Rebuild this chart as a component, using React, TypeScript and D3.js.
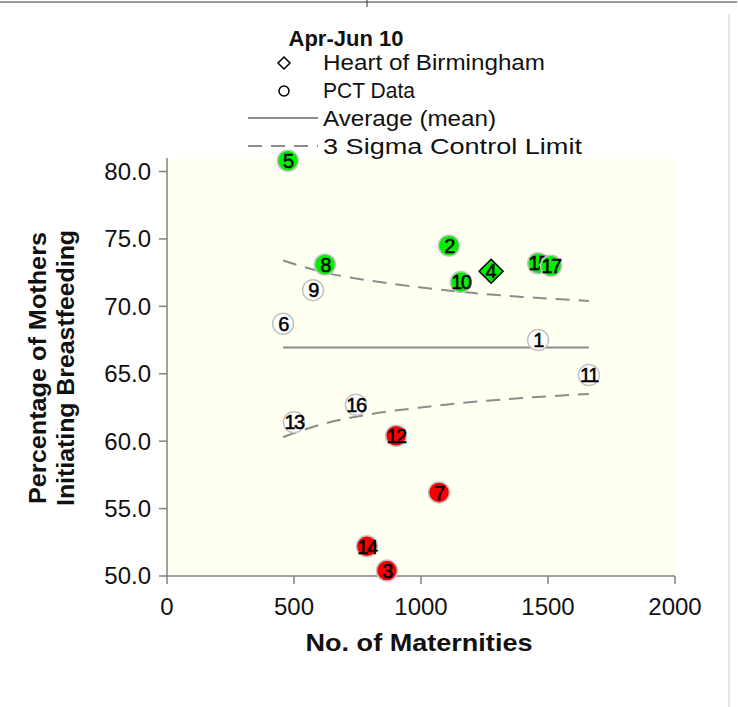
import React from "react";
import * as d3 from "d3";

// ---- data ----
const pctIds = [1, 2, 3, 5, 6, 7, 8, 9, 10, 11, 12, 13, 14, 15, 16, 17];
const pctMaternities = [1461, 1110, 866, 476, 457, 1071, 622, 575, 1157, 1661, 902, 500, 787, 1461, 744, 1512];
const pctPercent = [67.5, 74.5, 50.4, 80.8, 68.7, 56.2, 73.1, 71.2, 71.8, 64.9, 60.4, 61.4, 52.2, 73.2, 62.7, 73.0];
const pctStatus = ["in", "above", "below", "above", "in", "below", "above", "in", "above", "in", "below", "in", "below", "above", "in", "above"];

const hobId = 4;
const hobMaternities = 1276;
const hobPercent = 72.6;
const hobStatus = "above";

const meanValue = 66.95;
const limitMaternities = [457, 600, 800, 1000, 1200, 1400, 1661];
const upperLimit = [73.4, 72.6, 71.9, 71.4, 71.0, 70.7, 70.4];
const lowerLimit = [60.3, 61.2, 62.0, 62.5, 62.9, 63.2, 63.5];

const xTicks = [0, 500, 1000, 1500, 2000];
const yTicks = [50, 55, 60, 65, 70, 75, 80];

const legendTitle = "Apr-Jun 10";
const legendLabels = ["Heart of Birmingham", "PCT Data", "Average (mean)", "3 Sigma Control Limit"];
const xTitle = "No. of Maternities";
const yTitleLines = ["Percentage of Mothers", "Initiating Breastfeeding"];

const fillFor: Record<string, string> = { above: "#00EE00", below: "#F80000", in: "#FFFFFF" };

export default function App() {
  const W = 738, H = 707;
  const left = 167, right = 675, top = 158, bottom = 576;
  const x = d3.scaleLinear().domain([0, 2000]).range([left, right]);
  const y = d3.scaleLinear().domain([50, 81]).range([bottom, top]);
  const font = "'Liberation Sans', Arial, sans-serif";
  const axisColor = "#808080";

  const limitLine = d3
    .line<number>()
    .x((_, i) => x(limitMaternities[i]))
    .y((d) => y(d))
    .curve(d3.curveMonotoneX);

  const pts = pctIds.map((id, i) => ({ id, n: pctMaternities[i], p: pctPercent[i], s: pctStatus[i] }));
  const dHalf = 12;
  const legendWidths = [222, 92, 173, 259];
  const yTitleWidths = [272, 276];

  return (
    <svg width={W} height={H} style={{ position: "absolute", left: 0, top: 0, background: "#fff" }} fontFamily={font}>
      {/* frame artefacts */}
      <line x1={0} x2={737} y1={2} y2={2} stroke="#9a9a9a" strokeWidth={2} />
      <line x1={367} x2={367} y1={0} y2={7} stroke="#333" strokeWidth={1} />
      <line x1={729} x2={729} y1={14} y2={707} stroke="#dcdcdc" strokeWidth={1.5} />

      {/* plot background */}
      <rect x={left} y={top} width={right - left} height={bottom - top} fill="#FFFFF2" />

      {/* mean line */}
      <line x1={x(limitMaternities[0])} x2={x(limitMaternities[limitMaternities.length - 1])} y1={y(meanValue)} y2={y(meanValue)} stroke="#8c8c8c" strokeWidth={2} />
      {/* control limits */}
      <path d={limitLine(upperLimit) || ""} fill="none" stroke="#8c8c8c" strokeWidth={2} strokeDasharray="14,9" />
      <path d={limitLine(lowerLimit) || ""} fill="none" stroke="#8c8c8c" strokeWidth={2} strokeDasharray="14,9" />

      {/* axes */}
      <line x1={left} x2={left} y1={top} y2={bottom} stroke={axisColor} strokeWidth={1.5} />
      <line x1={left} x2={right} y1={bottom} y2={bottom} stroke={axisColor} strokeWidth={1.5} />
      {yTicks.map((t) => (
        <g key={"y" + t}>
          <line x1={left - 8} x2={left} y1={y(t)} y2={y(t)} stroke={axisColor} strokeWidth={1.5} />
          <text x={left - 16} y={y(t)} dy="0.35em" textAnchor="end" fontSize={24} fill="#111">
            {t.toFixed(1)}
          </text>
        </g>
      ))}
      {xTicks.map((t) => (
        <g key={"x" + t}>
          <line x1={x(t)} x2={x(t)} y1={bottom} y2={bottom + 8} stroke={axisColor} strokeWidth={1.5} />
          <text x={x(t)} y={bottom + 39} textAnchor="middle" fontSize={24} fill="#111">
            {t}
          </text>
        </g>
      ))}

      {/* axis titles */}
      <text x={419} y={651} textAnchor="middle" fontSize={24} fontWeight="bold" fill="#111" textLength={227} lengthAdjust="spacingAndGlyphs">
        {xTitle}
      </text>
      <g transform="translate(38,368) rotate(-90)">
        {yTitleLines.map((l, i) => (
          <text key={l} x={0} y={i * 28} dy="0.35em" textAnchor="middle" fontSize={24} fontWeight="bold" fill="#111" textLength={yTitleWidths[i]} lengthAdjust="spacingAndGlyphs">
            {l}
          </text>
        ))}
      </g>

      {/* PCT points */}
      {pts.map((d) => (
        <g key={"p" + d.id}>
          <circle cx={x(d.n)} cy={y(d.p)} r={10.5} fill={fillFor[d.s]} stroke="#c4c4c4" strokeWidth={1.5} />
          <text x={x(d.n)} y={y(d.p)} dy="0.36em" textAnchor="middle" fontSize={20} letterSpacing={-1.5} fill="#000" stroke="#000" strokeWidth={0.5}>
            {d.id}
          </text>
        </g>
      ))}
      {/* Heart of Birmingham */}
      <g>
        <path
          d={`M${x(hobMaternities)},${y(hobPercent) - dHalf} L${x(hobMaternities) + dHalf},${y(hobPercent)} L${x(hobMaternities)},${y(hobPercent) + dHalf} L${x(hobMaternities) - dHalf},${y(hobPercent)} Z`}
          fill={fillFor[hobStatus]}
          stroke="#000"
          strokeWidth={1.5}
        />
        <text x={x(hobMaternities)} y={y(hobPercent)} dy="0.36em" textAnchor="middle" fontSize={20} fill="#000" stroke="#000" strokeWidth={0.5}>
          {hobId}
        </text>
      </g>

      {/* legend */}
      <text x={346} y={46} textAnchor="middle" fontSize={22} fontWeight="bold" fill="#111">
        {legendTitle}
      </text>
      <path d="M284,57 L290,63 L284,69 L278,63 Z" fill="#fff" stroke="#000" strokeWidth={1.5} />
      <circle cx={284} cy={91} r={5} fill="#fff" stroke="#000" strokeWidth={1.5} />
      <line x1={248} x2={318} y1={118} y2={118} stroke="#8c8c8c" strokeWidth={2} />
      <line x1={248} x2={318} y1={146} y2={146} stroke="#8c8c8c" strokeWidth={2} strokeDasharray="14,9" />
      {legendLabels.map((l, i) => (
        <text key={l} x={323} y={70 + i * 28} fontSize={22} fill="#111" textLength={legendWidths[i]} lengthAdjust="spacingAndGlyphs">
          {l}
        </text>
      ))}
    </svg>
  );
}
